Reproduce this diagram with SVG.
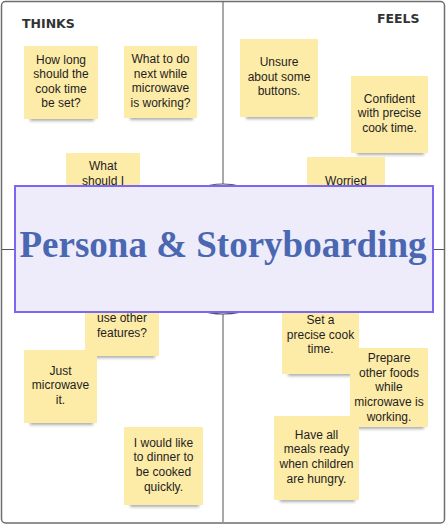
<svg xmlns="http://www.w3.org/2000/svg" width="446" height="525" viewBox="0 0 446 525">
<style>
.frame{fill:#ffffff;stroke:#6e6e6e;stroke-width:1.5}
.axis{stroke:#555555;stroke-width:1;fill:none}
.note{fill:#fdeba8}
.shadow{fill:#6a6a6a;opacity:0.55;filter:url(#blur)}
.nt{font-family:"Liberation Sans",Arial,sans-serif;font-size:12px;fill:#1e1e1e;text-anchor:middle}
.hd{font-family:"DejaVu Sans",sans-serif;font-weight:bold;font-size:12.5px;fill:#333333}
.title{font-family:"Liberation Serif","Times New Roman",serif;font-weight:bold;font-size:37px;fill:#4a67b1;text-anchor:middle}
</style>
<defs>
<filter id="blur" x="-20%" y="-100%" width="140%" height="300%"><feGaussianBlur stdDeviation="1.8"/></filter>
</defs>
<g id="frame">
<rect class="frame" x="1.5" y="1.5" width="443" height="521.5" rx="4"/>
</g>
<g id="connectors">
<line class="axis" x1="223" y1="2" x2="223" y2="522"/>
<line class="axis" x1="2" y1="249.5" x2="444" y2="249.5"/>
<circle cx="223" cy="249" r="65" fill="#ffffff" stroke="#555555" stroke-width="1.2"/>
</g>
<text id="thinks" class="hd" x="22" y="28">THINKS</text>
<text id="feels" class="hd" x="377" y="23">FEELS</text>

<g id="n1"><rect class="shadow" x="30" y="115" width="64" height="6"/><rect class="note" x="24" y="46" width="74" height="73"/>
<text class="nt" x="61" y="63.5">How long</text><text class="nt" x="61" y="78">should the</text><text class="nt" x="61" y="92.7">cook time</text><text class="nt" x="61" y="107.3">be set?</text></g>
<g id="n2"><rect class="shadow" x="130" y="114" width="63" height="6"/><rect class="note" x="124" y="46" width="73" height="72"/>
<text class="nt" x="160.5" y="62.7">What to do</text><text class="nt" x="160.5" y="77.7">next while</text><text class="nt" x="160.5" y="92">microwave</text><text class="nt" x="160.5" y="106.7">is working?</text></g>
<g id="n3"><rect class="note" x="66" y="153" width="74" height="73"/>
<text class="nt" x="103" y="169.7">What</text><text class="nt" x="103" y="185">should I</text></g>
<g id="n4"><rect class="shadow" x="91" y="352" width="64" height="6"/><rect class="note" x="85" y="283" width="74" height="73"/>
<text class="nt" x="122" y="322">use other</text><text class="nt" x="122" y="337">features?</text></g>
<g id="n5"><rect class="shadow" x="30" y="419" width="63" height="6"/><rect class="note" x="24" y="350" width="73" height="73"/>
<text class="nt" x="60.5" y="374.7">Just</text><text class="nt" x="60.5" y="389.3">microwave</text><text class="nt" x="60.5" y="404">it.</text></g>
<g id="n6"><rect class="shadow" x="130" y="501" width="69" height="6"/><rect class="note" x="124" y="427" width="79" height="78"/>
<text class="nt" x="163.5" y="446.7">I would like</text><text class="nt" x="163.5" y="461.3">to dinner to</text><text class="nt" x="163.5" y="476">be cooked</text><text class="nt" x="163.5" y="490.7">quickly.</text></g>
<g id="n7"><rect class="shadow" x="246" y="113" width="68" height="6"/><rect class="note" x="240" y="39" width="78" height="78"/>
<text class="nt" x="279" y="65.7">Unsure</text><text class="nt" x="279" y="80.7">about some</text><text class="nt" x="279" y="94.7">buttons.</text></g>
<g id="n8"><rect class="shadow" x="357" y="149" width="67" height="6"/><rect class="note" x="351" y="76" width="77" height="77"/>
<text class="nt" x="389.5" y="102.7">Confident</text><text class="nt" x="389.5" y="117.3">with precise</text><text class="nt" x="389.5" y="132">cook time.</text></g>
<g id="n9"><rect class="note" x="307" y="157" width="78" height="78"/>
<text class="nt" x="346" y="184.7">Worried</text></g>
<g id="n10"><rect class="shadow" x="288" y="370" width="67" height="6"/><rect class="note" x="282" y="296" width="77" height="78"/>
<text class="nt" x="320.5" y="324">Set a</text><text class="nt" x="320.5" y="338.7">precise cook</text><text class="nt" x="320.5" y="353.3">time.</text></g>
<g id="n11"><rect class="shadow" x="356" y="423" width="68" height="6"/><rect class="note" x="350" y="348" width="78" height="79"/>
<text class="nt" x="389" y="362">Prepare</text><text class="nt" x="389" y="376.7">other foods</text><text class="nt" x="389" y="391.3">while</text><text class="nt" x="389" y="406">microwave is</text><text class="nt" x="389" y="420.7">working.</text></g>
<g id="n12"><rect class="shadow" x="280" y="496" width="75" height="6"/><rect class="note" x="274" y="416" width="85" height="84"/>
<text class="nt" x="316.5" y="438.7">Have all</text><text class="nt" x="316.5" y="453.3">meals ready</text><text class="nt" x="316.5" y="468">when children</text><text class="nt" x="316.5" y="482.7">are hungry.</text></g>

<g id="title">
<rect x="15" y="186" width="418" height="126" fill="#eeecfb" stroke="#7b68ee" stroke-width="2"/>
<text class="title" x="223" y="257">Persona &amp; Storyboarding</text>
</g>
</svg>
